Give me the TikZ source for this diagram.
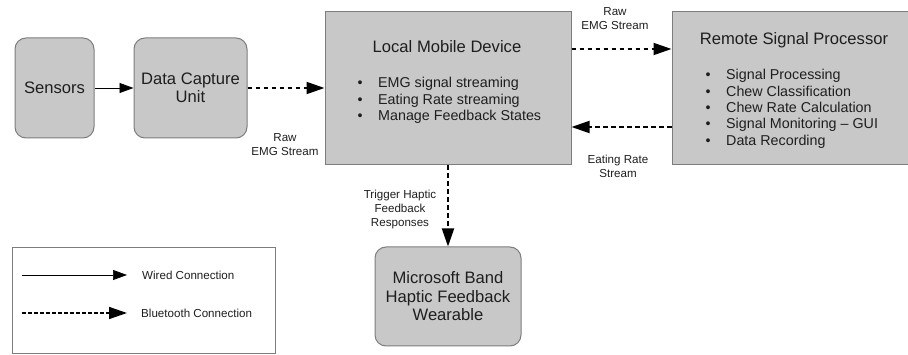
\documentclass[tikz,border=0pt]{standalone}
\usepackage{fontspec}
\setmainfont{Liberation Sans}
\usetikzlibrary{arrows.meta,calc}

\definecolor{boxfill}{RGB}{200,200,200}
\definecolor{boxline}{RGB}{125,125,125}
\definecolor{ink}{RGB}{30,30,30}

\tikzset{
  block/.style={draw=boxline, line width=1pt, fill=boxfill, text=ink,
    font=\fontsize{16.6}{18.5}\selectfont, align=center, inner sep=0pt},
  roundblock/.style={block, rounded corners=11pt},
  item/.style={anchor=base west, inner sep=0pt, text=ink,
    font=\fontsize{14.3}{16.4}\selectfont},
  lbl/.style={text=ink, align=center, inner sep=0pt,
    font=\fontsize{11.6}{14}\selectfont},
  wired/.style={line width=0.9pt, -{Triangle[length=14pt,width=10pt]}},
  bt/.style={line width=1.8pt, dash pattern=on 4.5pt off 3.5pt,
    -{Triangle[length=18pt,width=12pt]}},
}

\begin{document}
\begin{tikzpicture}[x=1pt,y=-1pt]
  \useasboundingbox (0,0) rectangle (908,355);

  % main blocks
  \node[roundblock, minimum width=79pt, minimum height=100pt] (sens) at (54.5,88) {Sensors};
  \node[roundblock, minimum width=113pt, minimum height=100pt] (dcu) at (190.5,88) {Data Capture\\Unit};
  \node[block, minimum width=246pt, minimum height=153pt] (lmd) at (448,88.5) {};
  \node[block, minimum width=240pt, minimum height=153pt] (rsp) at (792,88.5) {};
  \node[roundblock, minimum width=146pt, minimum height=99pt] (band) at (448,296.5)
    {Microsoft Band\\Haptic Feedback\\Wearable};

  % block titles
  \node[anchor=base, inner sep=0pt, text=ink, font=\fontsize{16.6}{18.5}\selectfont]
    (lmdtitle) at (447,53) {Local Mobile Device};
  \node[anchor=base, inner sep=0pt, text=ink, font=\fontsize{16.6}{18.5}\selectfont]
    (rsptitle) at (794,45) {Remote Signal Processor};

  % bullet lists
  \foreach \t [count=\i] in {EMG signal streaming, Eating Rate streaming, Manage Feedback States}
    \node[item] (lmdi\i) at (357.5,{88+16.5*(\i-1)}) {\makebox[20.5pt][l]{\textbullet}\t};
  \foreach \t [count=\i] in {Signal Processing, Chew Classification, Chew Rate Calculation,
      Signal Monitoring – GUI, Data Recording}
    \node[item] (rspi\i) at (705.5,{80+16.3*(\i-1)}) {\makebox[20.5pt][l]{\textbullet}\t};

  % connections
  \draw[wired] (sens) -- (dcu);
  \draw[bt] (dcu.east) -- (dcu.east -| lmd.west);
  \draw[bt] ([yshift=39.5pt]lmd.east) -- ([yshift=39.5pt]lmd.east -| rsp.west);
  \draw[bt] ([yshift=-38.5pt]rsp.west) -- ([yshift=-38.5pt]rsp.west -| lmd.east);
  \draw[bt] (lmd.south) -- (band.north);

  % connection labels
  \node[lbl] (l1) at (285,145) {Raw\\EMG Stream};
  \node[lbl] (l2) at (615,18.5) {Raw\\EMG Stream};
  \node[lbl] (l3) at (618,166) {Eating Rate\\Stream};
  \node[lbl] (l4) at (400,209.5) {Trigger Haptic\\Feedback\\Responses};

  % legend
  \node[draw=boxline, line width=0.9pt, minimum width=263pt, minimum height=106pt,
    inner sep=0pt] (legend) at (143.5,300) {};
  \coordinate (w0) at (22,275);
  \coordinate (w1) at (127,275);
  \coordinate (b0) at (22,313);
  \coordinate (b1) at (127,313);
  \draw[wired, line width=0.7pt] (w0) -- (w1);
  \draw[bt, line width=1.5pt, dash pattern=on 3.5pt off 2.5pt] (b0) -- (b1);
  \node[lbl, anchor=west] (wtxt) at (142,275) {Wired Connection};
  \node[lbl, anchor=west] (btxt) at (141,313) {Bluetooth Connection};
\end{tikzpicture}
\end{document}
